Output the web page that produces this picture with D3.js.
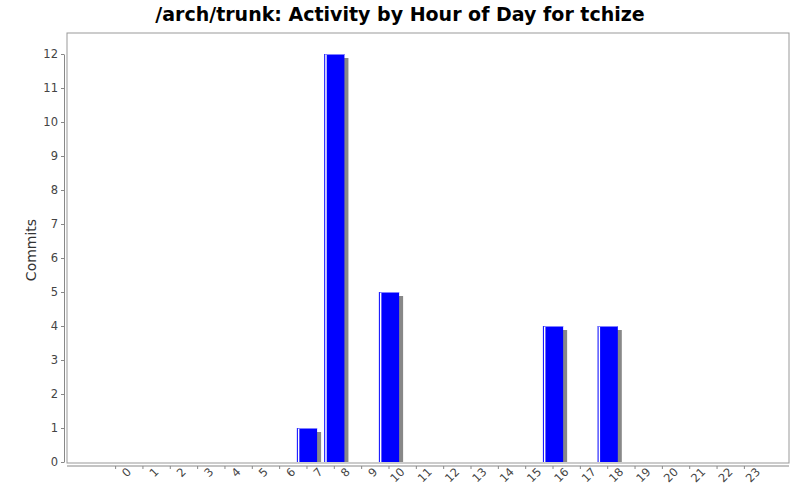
<!DOCTYPE html><html><head><meta charset="utf-8"><script src="https://cdn.jsdelivr.net/npm/d3@7"></script>
<style>body{margin:0;background:#fff}</style></head><body><svg id="c" width="800" height="500"></svg>
<script>
const hours = d3.range(24).map(String);
const commits = [0,0,0,0,0,0,0,1,12,0,5,0,0,0,0,0,4,0,4,0,0,0,0,0];
const yTicks = d3.range(13);
const svg = d3.select("#c");
const L=67,R=789,T=33,B=466;
const x = d3.scaleBand().domain(hours).range([105.5,754.5]).paddingInner(0.26);
const y = d3.scaleLinear().domain([0,12]).range([462,54]);
svg.append("text").attr("x",400).attr("y",21).attr("text-anchor","middle").attr("font-family","DejaVu Sans").attr("font-weight","bold").attr("font-size",19).text("/arch/trunk: Activity by Hour of Day for tchize");
svg.append("rect").attr("x",L).attr("y",T).attr("width",R-L).attr("height",462-T+1).attr("fill","#fff").attr("stroke","#999");
const g=svg.append("g");
commits.forEach((v,i)=>{ if(!v) return;
 const x0=x(hours[i]), w=x.bandwidth(), y0=y(v), h=y(0)-y0;
 g.append("rect").attr("x",x0+4).attr("y",y0+4).attr("width",w).attr("height",h-4).attr("fill","#888");
 g.append("rect").attr("x",x0).attr("y",y0).attr("width",w).attr("height",h).attr("fill","#0000ff");
 g.append("rect").attr("x",x0+1).attr("y",y0).attr("width",1.5).attr("height",h).attr("fill","#fff");
 g.append("rect").attr("x",x0+1).attr("y",y0).attr("width",w-1).attr("height",1).attr("fill","#8080ff");
});
const ya=svg.append("g").attr("transform",`translate(${L-3},0)`).call(d3.axisLeft(y).tickValues(yTicks).tickFormat(d3.format("d")).tickSize(3).tickSizeOuter(0));
ya.select(".domain").attr("stroke","#888");
const xa=svg.append("g").attr("transform",`translate(0,${B})`).call(d3.axisBottom(x).tickSize(3).tickSizeOuter(0));
xa.select(".domain").attr("d",`M${L},0H${R}`).attr("stroke","#888");
[ya,xa].forEach(a=>{a.selectAll("text").attr("font-family","DejaVu Sans").attr("font-size",11.5).attr("fill","#444");a.selectAll(".tick line").attr("stroke","#888");});
xa.selectAll("text").attr("text-anchor","end").attr("dx","0.6em").attr("dy","0.9em").attr("transform","rotate(-45)");
svg.append("text").attr("transform","translate(36,250) rotate(-90)").attr("text-anchor","middle").attr("font-family","DejaVu Sans").attr("font-size",14).attr("fill","#333").text("Commits");
</script></body></html>
